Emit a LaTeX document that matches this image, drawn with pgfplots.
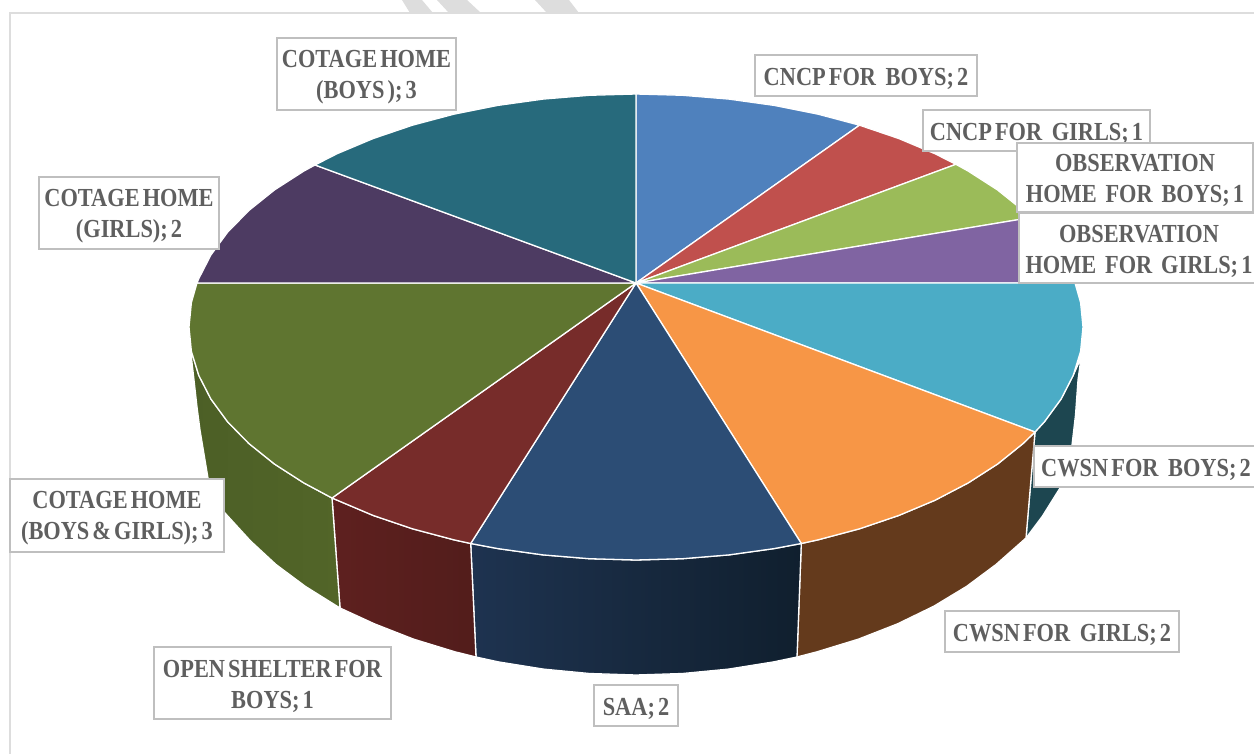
\documentclass[border=0pt]{standalone}
\usepackage{pgfplots}
\pgfplotsset{compat=1.18}
\usepackage{fontspec}
\setmainfont{Liberation Serif}
\newfontfamily\lab[FakeStretch=0.86,WordSpace=0.55]{Liberation Serif Bold}
\definecolor{cblue}{HTML}{4F81BD}
\definecolor{cred}{HTML}{C0504D}
\definecolor{cgreen}{HTML}{9BBB59}
\definecolor{cpurple}{HTML}{8064A2}
\definecolor{cteal}{HTML}{4BACC6}
\definecolor{corange}{HTML}{F79646}
\definecolor{cnavy}{HTML}{2C4D75}
\definecolor{cmaroon}{HTML}{772C2A}
\definecolor{colive}{HTML}{5F7530}
\definecolor{cdpurple}{HTML}{4D3B62}
\definecolor{cdteal}{HTML}{276A7C}
\definecolor{sideteal}{HTML}{1D4650}
\definecolor{sidebrown}{HTML}{643A1C}
\definecolor{sidenavyA}{HTML}{1E3350}
\definecolor{sidenavyB}{HTML}{101F2E}
\definecolor{sidemarA}{HTML}{5E201F}
\definecolor{sidemarB}{HTML}{521D1B}
\definecolor{sideolA}{HTML}{4C5F26}
\definecolor{sideolB}{HTML}{526528}
\definecolor{boxgray}{HTML}{BFBFBF}
\definecolor{txt}{HTML}{5F5F5F}
\definecolor{framegray}{HTML}{DDDDDD}
\newcommand\labnode[5]{\node[draw=boxgray,line width=1.8pt,fill=white,inner sep=0pt,outer sep=0pt,
  minimum width=#3pt,minimum height=#4pt] at (axis cs:#1,#2) {};
  \node[text=txt,inner sep=0pt,outer sep=0pt,align=center,shift={(0pt,-3pt)},
  font=\fontsize{26}{31}\selectfont\lab] at (axis cs:#1,#2) {#5};}
\begin{document}
\begin{tikzpicture}
\useasboundingbox (0,0) rectangle (1254pt,754pt);
\clip (0,0) rectangle (1254pt,754pt);
\begin{axis}[at={(0,0)},anchor=south west,scale only axis,width=1254pt,height=754pt,
  xmin=0,xmax=1254,ymin=0,ymax=754,y dir=reverse,hide axis,clip=false,
  slicestyle/.style={draw=white,line width=1.3pt,line join=round}]
% watermark stripes and frame
\addplot[fill=framegray,draw=none] coordinates {(402,0)(422,0)(433,13)(410,13)} --cycle;
\addplot[fill=framegray,draw=none] coordinates {(437,0)(467,0)(481,13)(449,13)} --cycle;
\addplot[fill=framegray,draw=none] coordinates {(535,0)(569,0)(579,13)(547,13)} --cycle;
\addplot[draw=framegray,line width=2pt] coordinates {(10,754)(10,13)(1254,13)};
% sides
\addplot[slicestyle,fill=sideteal] coordinates {(1035,432)(1044.4,421.8)(1061.1,399)(1073.2,375.4)(1081,358)(1078,380)(1075.5,415)(1072,445)(1060.6,487)(1042.5,516)(1026,538)} --cycle;
\addplot[slicestyle,fill=sidebrown] coordinates {(1035,432)(1023.1,443.5)(997.6,464)(968.2,482.9)(935.1,500.2)(898.7,515.5)(859.5,528.8)(817.8,539.9)(801.3,543.5)(797,657)(817,651.8)(858.5,639.1)(897.6,623.8)(933.8,606.2)(966.7,586.3)(996,564.5)(1026,538)} --cycle;
\addplot[slicestyle,left color=sidenavyA,right color=sidenavyB] coordinates {(801.3,543.5)(774.1,548.6)(728.9,554.9)(682.7,558.7)(636,560)(589.3,558.7)(543.1,554.9)(497.9,548.6)(470.7,543.5)(476,657)(498.5,661.9)(543.5,669.1)(589.5,673.5)(636,675)(682.5,673.5)(728.5,669.1)(773.5,661.9)(797,657)} --cycle;
\addplot[slicestyle,left color=sidemarA,right color=sidemarB] coordinates {(470.7,543.5)(454.2,539.9)(412.5,528.8)(373.3,515.5)(332,498)(340,608)(374.4,623.8)(413.5,639.1)(455,651.8)(476,657)} --cycle;
\addplot[slicestyle,left color=sideolA,right color=sideolB] coordinates {(332,498)(303.8,482.9)(274.4,464)(248.9,443.5)(227.6,421.8)(210.9,399)(198.8,375.4)(191.4,351.4)(190,345)(194,380)(197,407)(200,430)(208,478)(225,513)(250.6,541)(276,564.5)(305.3,586.3)(340,608)} --cycle;
% top face
\addplot[slicestyle,fill=cblue] coordinates {(636,283)(636,94)(682.7,95.3)(728.9,99.1)(774.1,105.4)(817.8,114.1)(859.5,125.2)} --cycle;
\addplot[slicestyle,fill=cred] coordinates {(636,283)(859.5,125.2)(898.7,138.5)(935.1,153.8)(955.9,164.3)} --cycle;
\addplot[slicestyle,fill=cgreen] coordinates {(636,283)(955.9,164.3)(968.2,171.1)(997.6,190)(1023.1,210.5)(1030.7,217.6)} --cycle;
\addplot[slicestyle,fill=cpurple] coordinates {(636,283)(1030.7,217.6)(1044.4,232.2)(1061.1,255)(1073.2,278.6)(1075,283)} --cycle;
\addplot[slicestyle,fill=cteal] coordinates {(636,283)(1075,283)(1080.6,302.6)(1083,327)(1080.6,351.4)(1073.2,375.4)(1061.1,399)(1044.4,421.8)(1035,432)} --cycle;
\addplot[slicestyle,fill=corange] coordinates {(636,283)(1035,432)(1023.1,443.5)(997.6,464)(968.2,482.9)(935.1,500.2)(898.7,515.5)(859.5,528.8)(817.8,539.9)(801.3,543.5)} --cycle;
\addplot[slicestyle,fill=cnavy] coordinates {(636,283)(801.3,543.5)(774.1,548.6)(728.9,554.9)(682.7,558.7)(636,560)(589.3,558.7)(543.1,554.9)(497.9,548.6)(470.7,543.5)} --cycle;
\addplot[slicestyle,fill=cmaroon] coordinates {(636,283)(470.7,543.5)(454.2,539.9)(412.5,528.8)(373.3,515.5)(332,498)} --cycle;
\addplot[slicestyle,fill=colive] coordinates {(636,283)(332,498)(303.8,482.9)(274.4,464)(248.9,443.5)(227.6,421.8)(210.9,399)(198.8,375.4)(191.4,351.4)(189,327)(191.4,302.6)(197,283)} --cycle;
\addplot[slicestyle,fill=cdpurple] coordinates {(636,283)(197,283)(198.8,278.6)(210.9,255)(227.6,232.2)(248.9,210.5)(274.4,190)(303.8,171.1)(315,165)} --cycle;
\addplot[slicestyle,fill=cdteal] coordinates {(636,283)(315,165)(336.9,153.8)(373.3,138.5)(412.5,125.2)(454.2,114.1)(497.9,105.4)(543.1,99.1)(589.3,95.3)(636,94)} --cycle;
% labels
\labnode{866}{75.5}{222}{41}{CNCP FOR \hspace{.25em}BOYS; 2}
\labnode{1036.5}{130.5}{227}{41}{CNCP FOR \hspace{.25em}GIRLS; 1}
\labnode{1135}{177.5}{236}{69}{OBSERVATION\\HOME \hspace{.22em}FOR \hspace{.22em}BOYS; 1}
\labnode{1139}{248}{240}{70}{OBSERVATION\\HOME \hspace{.22em}FOR \hspace{.22em}GIRLS; 1}
\labnode{1146}{466.5}{224}{41}{CWSN FOR \hspace{.25em}BOYS; 2}
\labnode{1062}{631.5}{234}{41}{CWSN FOR \hspace{.25em}GIRLS; 2}
\labnode{636}{705.5}{84.5}{41}{SAA; 2}
\labnode{272.5}{683}{237}{72}{OPEN SHELTER FOR\\BOYS; 1}
\labnode{117}{515.5}{214.5}{73}{COTAGE HOME\\(BOYS \& GIRLS); 3}
\labnode{129}{213}{180}{72}{COTAGE HOME\\(GIRLS); 2}
\labnode{366.5}{74}{179}{72}{COTAGE HOME\\(BOYS ); 3}
\end{axis}
\end{tikzpicture}
\end{document}
